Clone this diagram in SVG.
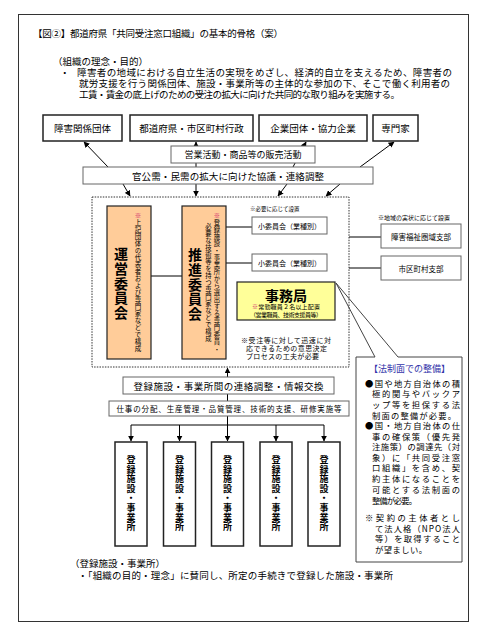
<svg xmlns="http://www.w3.org/2000/svg" width="490" height="625" viewBox="0 0 490 625">
<defs>
<marker id="ah" viewBox="0 0 10 10" refX="9" refY="5" markerWidth="6" markerHeight="6" orient="auto" markerUnits="userSpaceOnUse">
<path d="M0,0 L10,5 L0,10 z" fill="#000"/>
</marker>
</defs>
<style>
text{font-family:"Noto Sans CJK JP","Noto Sans",sans-serif;fill:#000;dominant-baseline:central}
.c{text-anchor:middle}
.bx{fill:#fff;stroke:#222;stroke-width:1.5}
.gb{fill:#fff;stroke:#666;stroke-width:1}
.ln{stroke:#000;stroke-width:1;fill:none}
.ar{stroke:#000;stroke-width:1;fill:none;marker-end:url(#ah)}
.v{writing-mode:vertical-rl}
.pk{fill:#FFCC99;stroke:#222;stroke-width:1.2}
.red{fill:#d0206a}
.leg{font-size:8.3px}
</style>
<rect x="18.5" y="14.5" width="450" height="607" fill="#fff" stroke="#333" stroke-width="1"/>
<g id="header">
<text x="33" y="33" font-size="9.5" textLength="250" lengthAdjust="spacing">【図②】都道府県「共同受注窓口組織」の基本的骨格（案）</text>
<text x="53" y="61" font-size="9.5">（組織の理念・目的）</text>
<text x="60" y="72" font-size="9.5">・</text>
<text x="77" y="72" font-size="9.5" textLength="375" lengthAdjust="spacing">障害者の地域における自立生活の実現をめざし、経済的自立を支えるため、障害者の</text>
<text x="79" y="83" font-size="9.5" textLength="371" lengthAdjust="spacing">就労支援を行う関係団体、施設・事業所等の主体的な参加の下、そこで働く利用者の</text>
<text x="79" y="94" font-size="9.5" textLength="321" lengthAdjust="spacing">工賃・賃金の底上げのための受注の拡大に向けた共同的な取り組みを実施する。</text>
</g>
<g id="connectors">
<line class="ar" x1="108" y1="167" x2="84" y2="142"/>
<line class="ar" x1="196" y1="167" x2="196" y2="142"/>
<line class="ar" x1="293" y1="167" x2="306" y2="142"/>
<line class="ar" x1="360" y1="167" x2="394" y2="142"/>
<line class="ar" x1="123" y1="184" x2="130" y2="196"/>
<line class="ar" x1="196" y1="184" x2="196" y2="196"/>
<line class="ar" x1="287" y1="184" x2="278" y2="196"/>
<line class="ar" x1="340" y1="184" x2="326" y2="196"/>
<line class="ln" x1="151" y1="276" x2="182" y2="276"/>
<line class="ln" x1="226" y1="227" x2="252" y2="227" stroke="#555"/>
<line class="ln" x1="226" y1="263" x2="252" y2="263" stroke="#555"/>
<line class="ln" x1="349" y1="237" x2="381" y2="237" stroke="#555"/>
<line class="ln" x1="349" y1="268" x2="381" y2="268" stroke="#555"/>
<line class="ar" x1="227.5" y1="425" x2="227.5" y2="368"/>
<line class="ln" x1="131" y1="425" x2="324" y2="425"/>
<line class="ar" x1="131" y1="425" x2="131" y2="441"/>
<line class="ar" x1="179.5" y1="425" x2="179.5" y2="441"/>
<line class="ar" x1="227.5" y1="425" x2="227.5" y2="441"/>
<line class="ar" x1="276" y1="425" x2="276" y2="441"/>
<line class="ar" x1="324" y1="425" x2="324" y2="441"/>
</g>
<g id="group-shougai"><rect class="bx" x="43" y="115" width="79" height="26"/><text class="c" x="82.5" y="128" font-size="9.5">障害関係団体</text></g>
<g id="group-gyosei"><rect class="bx" x="130" y="115" width="123" height="26"/><text class="c" x="191.5" y="128" font-size="9.5">都道府県・市区町村行政</text></g>
<g id="group-kigyo"><rect class="bx" x="259" y="115" width="108" height="26"/><text class="c" x="313" y="128" font-size="9.5">企業団体・協力企業</text></g>
<g id="group-senmon"><rect class="bx" x="373" y="115" width="45" height="26"/><text class="c" x="395.5" y="128" font-size="9.5">専門家</text></g>
<g id="eigyo"><rect class="gb" x="171" y="146" width="144" height="17"/><text class="c" x="243" y="154.5" font-size="9">営業活動・商品等の販売活動</text></g>
<g id="kyogi"><rect class="gb" x="83" y="167" width="290" height="17"/><text class="c" x="228" y="175.5" font-size="9.5" textLength="192" lengthAdjust="spacing">官公需・民需の拡大に向けた協議・連絡調整</text></g>
<g id="org-boundary"><rect x="92" y="197" width="257" height="170" fill="none" stroke="#333" stroke-width="1" stroke-dasharray="1.5 1.2"/></g>
<g id="unei">
<rect class="pk" x="107" y="206" width="44" height="153"/>
<text class="v" x="121" y="247" font-size="14" font-weight="bold" letter-spacing="0.6">運営委員会</text>
<text class="v" x="138" y="212" font-size="6.5" letter-spacing="0.5"><tspan class="red">※</tspan>上記団体の代表者および専門家などで構成</text>
</g>
<g id="suishin">
<rect class="pk" x="182" y="206" width="44" height="153"/>
<text class="v" x="195" y="248" font-size="14" font-weight="bold" letter-spacing="0.6">推進委員会</text>
<text class="v" x="217" y="212" font-size="6.3" letter-spacing="0.75"><tspan class="red">※</tspan>登録施設・事業所から選出する専門委員・</text>
<text class="v" x="208.5" y="223" font-size="6.3" letter-spacing="0.75">必要な技術等を持つ専門家などで構成</text>
</g>
<g id="shoiinkai">
<text x="250" y="209" font-size="5.5">※必要に応じて設置</text>
<rect class="gb" x="252" y="217" width="75" height="17"/><text class="c" x="289.5" y="225.5" font-size="7">小委員会（業種別）</text>
<rect class="gb" x="252" y="254" width="75" height="17"/><text class="c" x="289.5" y="262.5" font-size="7">小委員会（業種別）</text>
</g>
<g id="shibu">
<text x="378" y="217" font-size="6">※地域の実状に応じて設置</text>
<rect class="gb" x="381" y="224" width="80" height="24"/><text class="c" x="421" y="236" font-size="7.5">障害福祉圏域支部</text>
<rect class="gb" x="381" y="256" width="80" height="24"/><text class="c" x="421" y="268" font-size="7.5">市区町村支部</text>
</g>
<g id="jimukyoku">
<rect x="237" y="282" width="98" height="38" fill="#FFFF99" stroke="#222" stroke-width="1.2"/>
<text class="c" x="286" y="294.5" font-size="14" font-weight="bold">事務局</text>
<text class="c" x="286" y="306" font-size="6" textLength="68" lengthAdjust="spacing"><tspan class="red">※</tspan>常勤職員２名以上配置</text>
<text class="c" x="286" y="314.5" font-size="6" textLength="72" lengthAdjust="spacing">（営業職員、技術支援員等）</text>
<text x="241" y="340" font-size="7" textLength="90" lengthAdjust="spacing">※受注等に対して迅速に対</text>
<text x="246" y="348" font-size="7" textLength="81" lengthAdjust="spacing">応できるための意思決定</text>
<text x="246" y="356" font-size="7" textLength="73" lengthAdjust="spacing">プロセスの工夫が必要</text>
</g>
<g id="legal">
<rect x="356" y="357" width="106" height="205" fill="#fff"/>
<path d="M375,357 L336,283 L398,357 L462,357 L462,562 L356,562 L356,357 Z" fill="none" stroke="#444" stroke-width="1"/>
<text x="369" y="368" font-size="9" style="fill:#3333aa" textLength="81" lengthAdjust="spacing">【法制面での整備】</text>
<text class="leg" x="365" y="382.7" textLength="95" lengthAdjust="spacing">●国や地方自治体の積</text>
<text class="leg" x="372" y="393.3" textLength="88" lengthAdjust="spacing">極的関与やバックア</text>
<text class="leg" x="372" y="404" textLength="88" lengthAdjust="spacing">ップ等を担保する法</text>
<text class="leg" x="372" y="414.5" textLength="84" lengthAdjust="spacing">制面の整備が必要。</text>
<text class="leg" x="365" y="425" textLength="95" lengthAdjust="spacing">●国・地方自治体の仕</text>
<text class="leg" x="372" y="435.7" textLength="88" lengthAdjust="spacing">事の確保策（優先発</text>
<text class="leg" x="372" y="445.7" textLength="88" lengthAdjust="spacing">注施策）の調達先（対</text>
<text class="leg" x="372" y="456.7" textLength="88" lengthAdjust="spacing">象）に「共同受注窓</text>
<text class="leg" x="372" y="467.3" textLength="88" lengthAdjust="spacing">口組織」を含め、契</text>
<text class="leg" x="372" y="478.3" textLength="88" lengthAdjust="spacing">約主体になることを</text>
<text class="leg" x="372" y="489.3" textLength="88" lengthAdjust="spacing">可能とする法制面の</text>
<text class="leg" x="372" y="500" textLength="45" lengthAdjust="spacing">整備が必要。</text>
<text class="leg" x="365" y="516.7" textLength="95" lengthAdjust="spacing">※契約の主体者とし</text>
<text class="leg" x="375" y="527.7" textLength="85" lengthAdjust="spacing">て法人格（NPO法人</text>
<text class="leg" x="375" y="538.3" textLength="85" lengthAdjust="spacing">等）を取得すること</text>
<text class="leg" x="375" y="549.3" textLength="52" lengthAdjust="spacing">が望ましい。</text>
</g>
<g id="renraku"><rect class="gb" x="123" y="377" width="211" height="17"/><text class="c" x="228.5" y="385.5" font-size="9.5" textLength="190" lengthAdjust="spacing">登録施設・事業所間の連絡調整・情報交換</text></g>
<g id="shigoto"><rect class="gb" x="109" y="401" width="240" height="15"/><text class="c" x="229" y="408.5" font-size="7.5" textLength="225" lengthAdjust="spacing">仕事の分配、生産管理・品質管理、技術的支援、研修実施等</text></g>
<g id="jigyosho-1"><rect class="bx" x="115" y="442" width="32" height="104" stroke-width="1.2"/><text class="v" x="131" y="455" font-size="9" font-weight="bold" letter-spacing="0.6">登録施設・事業所</text></g>
<g id="jigyosho-2"><rect class="bx" x="163.5" y="442" width="32" height="104" stroke-width="1.2"/><text class="v" x="179.5" y="455" font-size="9" font-weight="bold" letter-spacing="0.6">登録施設・事業所</text></g>
<g id="jigyosho-3"><rect class="bx" x="211.5" y="442" width="32" height="104" stroke-width="1.2"/><text class="v" x="227.5" y="455" font-size="9" font-weight="bold" letter-spacing="0.6">登録施設・事業所</text></g>
<g id="jigyosho-4"><rect class="bx" x="260" y="442" width="32" height="104" stroke-width="1.2"/><text class="v" x="276" y="455" font-size="9" font-weight="bold" letter-spacing="0.6">登録施設・事業所</text></g>
<g id="jigyosho-5"><rect class="bx" x="308" y="442" width="32" height="104" stroke-width="1.2"/><text class="v" x="324" y="455" font-size="9" font-weight="bold" letter-spacing="0.6">登録施設・事業所</text></g>
<g id="footer">
<text x="70" y="563" font-size="9.5">（登録施設・事業所）</text>
<text x="78" y="575" font-size="9.5" textLength="315" lengthAdjust="spacing">・「組織の目的・理念」に賛同し、所定の手続きで登録した施設・事業所</text>
</g>
</svg>
